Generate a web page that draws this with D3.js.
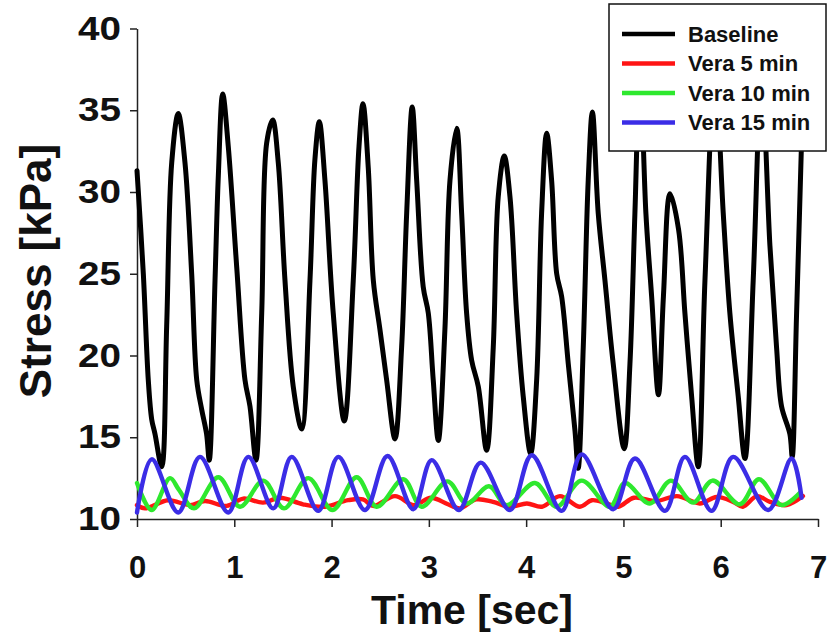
<!DOCTYPE html>
<html>
<head>
<meta charset="utf-8">
<script src="https://cdn.jsdelivr.net/npm/d3@7"></script>
<style>
  body { margin: 0; background: #fff; }
  svg text { font-family: Arial, "Liberation Sans", sans-serif; font-weight: bold; fill: #111; }
</style>
</head>
<body>
<svg id="chart" width="828" height="634"></svg>
<script>

// values: time [sec] and stress [kPa]
let baselineTime = [0, 0.065, 0.116, 0.151, 0.185, 0.254, 0.305, 0.357, 0.424, 0.493, 0.562, 0.614, 0.665, 0.715, 0.743,
  0.802, 0.836, 0.881, 0.938, 1.025, 1.110, 1.161, 1.223, 1.282, 1.333, 1.395, 1.452, 1.521, 1.606, 1.693,
  1.778, 1.829, 1.874, 1.932, 2.017, 2.131, 2.223, 2.282, 2.323, 2.377, 2.429, 2.497, 2.566, 2.652,
  2.720, 2.772, 2.829, 2.875, 2.942, 2.994, 3.045, 3.097, 3.165, 3.217, 3.286, 3.337, 3.388, 3.440, 3.508, 3.594,
  3.662, 3.713, 3.775, 3.834, 3.902, 3.970, 4.046, 4.108, 4.159, 4.211, 4.262, 4.314, 4.365, 4.433, 4.502, 4.535,
  4.587, 4.638, 4.681, 4.741, 4.810, 4.895, 5.008, 5.067, 5.118, 5.170, 5.231, 5.290, 5.360, 5.411, 5.479, 5.567,
  5.632, 5.701, 5.769, 5.838, 5.940, 6.026, 6.094, 6.180, 6.249, 6.334, 6.420, 6.506, 6.574, 6.625, 6.711, 6.735,
  6.780, 6.845];
let baselineStress = [31.3, 25.0, 18.5, 16.1, 15.2, 13.2, 21.8, 31.8, 34.8, 31.8, 25.0, 18.5, 16.7, 15.2, 13.6,
  24.6, 31.0, 36.0, 32.8, 25.4, 18.5, 16.9, 13.6, 22.6, 33.0, 34.4, 31.8, 24.6, 18.1, 15.5,
  24.6, 32.0, 34.3, 30.7, 22.6, 16.0, 24.6, 32.8, 35.4, 31.5, 24.6, 21.6, 18.5, 14.9,
  20.5, 28.7, 35.2, 30.7, 24.2, 22.6, 18.5, 14.8, 21.6, 30.7, 33.9, 28.7, 22.6, 19.7, 18.1, 14.2,
  20.5, 29.7, 32.2, 29.7, 22.6, 17.5, 14.0, 18.5, 28.7, 33.6, 30.7, 25.0, 23.6, 19.5, 15.4, 13.1,
  20.5, 30.7, 34.9, 28.7, 24.6, 19.5, 14.3, 19.5, 28.7, 37.5, 28.7, 23.6, 17.6, 23.6, 29.9, 27.7,
  22.6, 17.5, 13.2, 24.6, 37.5, 28.7, 22.6, 17.5, 13.7, 24.6, 37.0, 26.7, 20.5, 16.9, 15.2, 13.8,
  22.6, 36.0];

let vera5Time = [0, 0.082, 0.319, 0.545, 0.699, 0.922, 1.092, 1.295, 1.470, 1.706, 1.932, 2.169, 2.323, 2.429,
  2.652, 2.847, 3.022, 3.196, 3.320, 3.484, 3.659, 3.833, 4.008, 4.162, 4.347, 4.553, 4.676, 4.827, 4.947,
  5.108, 5.341, 5.550, 5.786, 5.958, 6.128, 6.228, 6.372, 6.506, 6.677, 6.845];
let vera5Stress = [10.85, 10.65, 11.15, 10.85, 11.1, 10.8, 11.25, 11.0, 11.3, 10.9, 10.75, 11.15, 11.2, 10.8,
  11.4, 10.85, 11.3, 10.9, 10.65, 11.2, 11.05, 10.75, 10.95, 10.75, 11.4, 10.75, 11.15, 10.95, 10.75,
  11.3, 11.1, 11.4, 10.95, 11.35, 11.05, 10.75, 11.4, 11.05, 10.85, 11.4];

let vera10Time = [0, 0.151, 0.339, 0.43, 0.586, 0.836, 1.059, 1.298, 1.511, 1.761, 2.009, 2.258, 2.464, 2.737,
  2.926, 3.191, 3.388, 3.618, 3.800, 4.090, 4.313, 4.570, 4.861, 5.015, 5.272, 5.488, 5.717, 5.915, 6.197,
  6.393, 6.626, 6.814];
let vera10Stress = [12.2, 10.55, 12.5, 11.8, 10.65, 12.55, 10.75, 12.35, 10.65, 12.5, 10.55, 12.55, 10.75, 12.43,
  10.75, 12.3, 10.95, 12.0, 10.85, 12.2, 10.75, 12.35, 10.75, 12.2, 10.95, 12.35, 11.0, 12.35, 10.9,
  12.43, 10.85, 11.6];

let vera15Time = [0, 0.151, 0.424, 0.647, 0.938, 1.144, 1.401, 1.590, 1.863, 2.069, 2.343, 2.575, 2.840, 3.029,
  3.309, 3.532, 3.833, 4.057, 4.365, 4.570, 4.895, 5.118, 5.427, 5.632, 5.906, 6.128, 6.488, 6.729, 6.831];
let vera15Stress = [10.4, 13.65, 10.4, 13.8, 10.4, 13.8, 10.65, 13.8, 10.5, 13.8, 10.55, 13.85, 10.6, 13.6,
  10.55, 13.45, 10.55, 13.9, 10.5, 13.95, 10.6, 13.7, 10.5, 13.8, 10.5, 13.8, 10.55, 13.7, 11.3];

let seriesNames = ['Baseline', 'Vera 5 min', 'Vera 10 min', 'Vera 15 min'];
let seriesColors = ['#000000', '#ff1414', '#2ee82e', '#3b2de6'];
let xTicks = [0, 1, 2, 3, 4, 5, 6, 7];
let yTicks = [10, 15, 20, 25, 30, 35, 40];

function zip(t, v) {
  return t.map(function(d, i) { return { t: d, v: v[i] }; });
}

let series = [
  zip(baselineTime, baselineStress),
  zip(vera5Time, vera5Stress),
  zip(vera10Time, vera10Stress),
  zip(vera15Time, vera15Stress)
];

let svg = d3.select('#chart');

let x = d3.scaleLinear().domain([0, 7]).range([137, 818]);
let y = d3.scaleLinear().domain([10, 40]).range([519, 28.5]);

let line = d3.line()
  .x(function(d) { return x(d.t); })
  .y(function(d) { return y(d.v); })
  .curve(d3.curveCatmullRom.alpha(0.5));

// axes
let xAxis = svg.append('g')
  .attr('transform', 'translate(0,519)')
  .call(d3.axisBottom(x).tickValues(xTicks).tickFormat(d3.format('d')).tickSize(8).tickSizeOuter(0).tickPadding(29));

let yAxis = svg.append('g')
  .attr('transform', 'translate(137,0)')
  .call(d3.axisLeft(y).tickValues(yTicks).tickFormat(d3.format('d')).tickSize(7).tickSizeOuter(0).tickPadding(9));

svg.selectAll('.domain, .tick line').attr('stroke', '#222').attr('stroke-width', 1.5);
xAxis.selectAll('text').attr('font-size', 31).attr('fill', '#111');
// the y labels are drawn wide in the original
yAxis.selectAll('text')
  .attr('font-size', 33)
  .attr('fill', '#111')
  .attr('textLength', 43)
  .attr('lengthAdjust', 'spacingAndGlyphs');

// lines
svg.append('g')
  .selectAll('path')
  .data(series)
  .join('path')
  .attr('d', line)
  .attr('fill', 'none')
  .attr('stroke', function(d, i) { return seriesColors[i]; })
  .attr('stroke-width', function(d, i) { return i === 0 ? 5 : 4.4; })
  .attr('stroke-linejoin', 'round')
  .attr('stroke-linecap', 'round');

// axis titles
svg.append('text')
  .attr('x', 472)
  .attr('y', 624)
  .attr('text-anchor', 'middle')
  .attr('font-size', 41)
  .text('Time [sec]');

svg.append('text')
  .attr('transform', 'translate(51,271) rotate(-90)')
  .attr('text-anchor', 'middle')
  .attr('font-size', 44)
  .text('Stress [kPa]');

// legend
let legend = svg.append('g');
legend.append('rect')
  .attr('x', 609).attr('y', 4)
  .attr('width', 217).attr('height', 147)
  .attr('fill', '#fff')
  .attr('stroke', '#111')
  .attr('stroke-width', 1.5);

let rows = legend.selectAll('g.row')
  .data(seriesNames)
  .join('g')
  .attr('class', 'row')
  .attr('transform', function(d, i) { return 'translate(0,' + (34 + i * 29.5) + ')'; });

rows.append('line')
  .attr('x1', 622).attr('x2', 675)
  .attr('stroke', function(d, i) { return seriesColors[i]; })
  .attr('stroke-width', 4.4);

rows.append('text')
  .attr('x', 688)
  .attr('dy', '0.35em')
  .attr('font-size', 22)
  .text(function(d) { return d; });

</script>
</body>
</html>
